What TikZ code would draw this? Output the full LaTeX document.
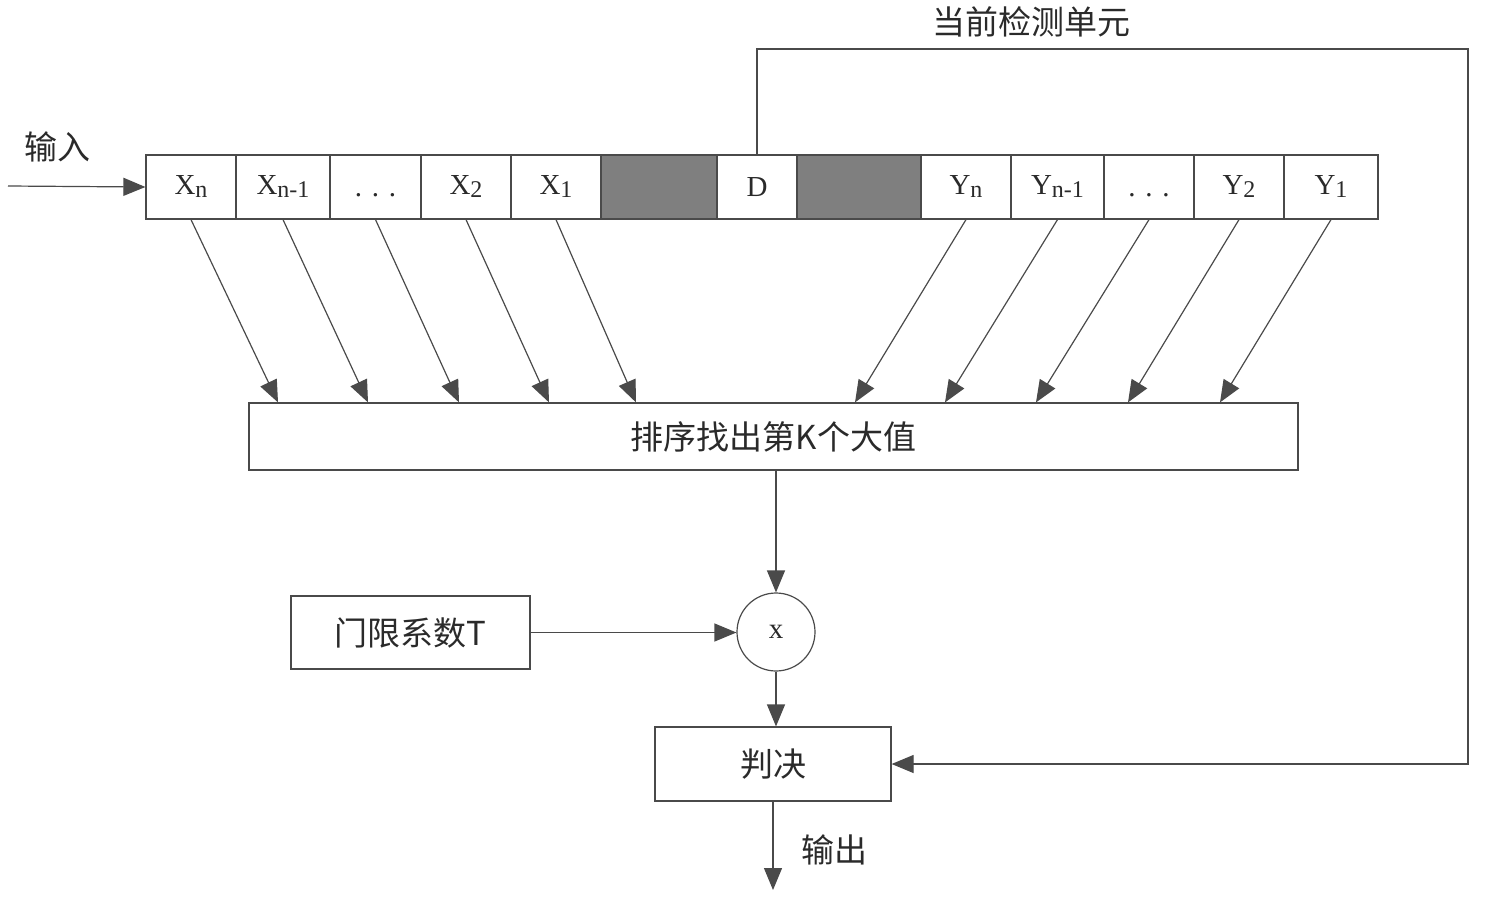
\documentclass[tikz,border=0pt]{standalone}
\usepackage{fontspec}
\setmainfont{Liberation Serif}
\newfontfamily\cjk{Noto Sans CJK SC}
\usetikzlibrary{arrows.meta}
\definecolor{ln}{HTML}{4A4A4A}
\definecolor{tx}{HTML}{2A2A2A}
\definecolor{gr}{HTML}{7F7F7F}
\newcommand{\sub}[1]{{\raisebox{-3pt}{\fontsize{24}{24}\selectfont #1}}}
\begin{document}
\begin{tikzpicture}[x=1pt,y=-1pt,
  every node/.style={text=tx},
  cell/.style={draw=ln,line width=1.2pt,minimum height=64pt,inner sep=0pt,font=\fontsize{29}{30}\selectfont},
  gcell/.style={cell,fill=gr},
  blk/.style={draw=ln,line width=1.2pt,inner sep=0pt,font=\fontsize{33}{35}\selectfont\cjk},
  lbl/.style={font=\fontsize{33}{35}\selectfont\cjk},
  arr/.style={draw=ln,line width=1.2pt,-{Triangle[length=22pt,width=18pt]}},
  lnk/.style={draw=ln,line width=1.2pt}]
\useasboundingbox (0,0) rectangle (1507,913);
% register cells
\node[cell,minimum width=90pt] (xn) at (191,187) {X\sub{n}};
\node[cell,minimum width=94pt] (xn1) at (283,187) {X\sub{n-1}};
\node[cell,minimum width=91pt] (xd) at (375.5,187) {\vphantom{X}. . .};
\node[cell,minimum width=90pt] (x2) at (466,187) {X\sub{2}};
\node[cell,minimum width=90pt] (x1) at (556,187) {X\sub{1}};
\node[gcell,minimum width=116pt] (g1) at (659,187) {};
\node[cell,minimum width=80pt] (d) at (757,187) {D};
\node[gcell,minimum width=124pt] (g2) at (859,187) {};
\node[cell,minimum width=90pt] (yn) at (966,187) {Y\sub{n}};
\node[cell,minimum width=93pt] (yn1) at (1057.5,187) {Y\sub{n-1}};
\node[cell,minimum width=90pt] (yd) at (1149,187) {\vphantom{X}. . .};
\node[cell,minimum width=90pt] (y2) at (1239,187) {Y\sub{2}};
\node[cell,minimum width=94pt] (y1) at (1331,187) {Y\sub{1}};
% blocks
\node[blk,minimum width=1049pt,minimum height=67pt] (sort) at (773.5,436.5) {排序找出第K个大值};
\node[draw=ln,line width=1.2pt,circle,minimum size=78pt,inner sep=0pt,font=\fontsize{29}{30}\selectfont] (mul) at (776,632) {x};
\node[blk,minimum width=239pt,minimum height=73pt] (thr) at (410.5,632.5) {门限系数T};
\node[blk,minimum width=236pt,minimum height=74pt] (dec) at (773,764) {判决};
% labels
\node[lbl] (lin) at (57,147) {输入};
\node[lbl] (lcur) at (1031,22) {当前检测单元};
\node[lbl] (lout) at (834,850) {输出};
% connectors
\coordinate (in) at (8,186);
\draw[arr] (in) -- (xn.west);
\draw[arr] (xn.south) -- (sort.north -| 278,0);
\draw[arr] (xn1.south) -- (sort.north -| 368,0);
\draw[arr] (xd.south) -- (sort.north -| 459,0);
\draw[arr] (x2.south) -- (sort.north -| 549,0);
\draw[arr] (x1.south) -- (sort.north -| 636,0);
\draw[arr] (yn.south) -- (sort.north -| 855,0);
\draw[arr] (yn1.south) -- (sort.north -| 945,0);
\draw[arr] (yd.south) -- (sort.north -| 1036,0);
\draw[arr] (y2.south) -- (sort.north -| 1128,0);
\draw[arr] (y1.south) -- (sort.north -| 1220,0);
\draw[arr] (sort.south -| mul) -- (mul.north);
\draw[arr] (thr.east) -- (thr.east -| mul.west);
\draw[arr] (mul.south) -- (mul.south |- dec.north);
\coordinate (tr) at (1468,49);
\draw[arr] (d.north) |- (tr) |- (dec.east);
\coordinate (out) at (773,890);
\draw[arr] (dec.south) -- (out);
\end{tikzpicture}
\end{document}
